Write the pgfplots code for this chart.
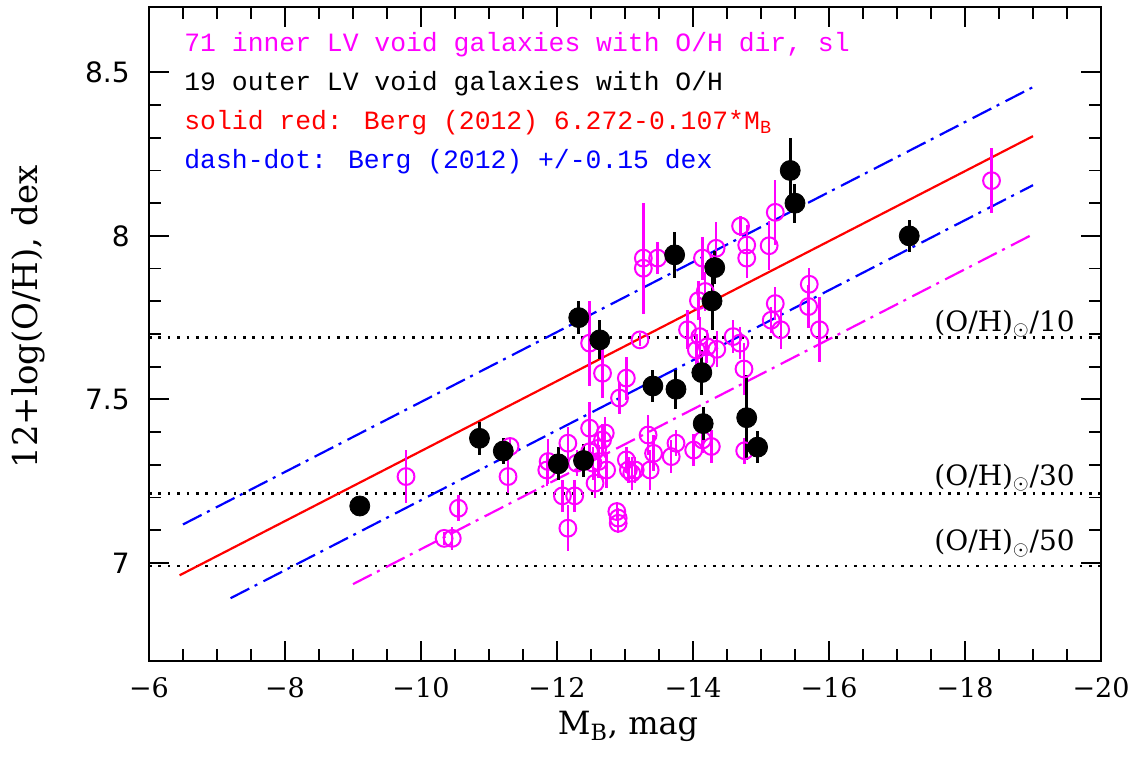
\documentclass[border=0pt]{standalone}
\usepackage{fontspec}
\usepackage{pgfplots}
\usepackage{pgfplotstable}
\pgfplotsset{compat=1.18}
\newfontfamily\dvserif{DejaVu Serif}
\newfontfamily\dvsans{DejaVu Sans}
\newfontfamily\lmono{Liberation Mono}
\definecolor{mag}{RGB}{255,0,255}
\definecolor{rd}{RGB}{255,0,0}
\definecolor{bl}{RGB}{0,0,255}

\pgfplotstableread{
x y e
-9.78 7.264 0.08
-10.55 7.167 0.04
-10.34 7.075 0.02
-10.46 7.075 0.035
-11.31 7.356 0.03
-11.28 7.264 0.05
-11.87 7.31 0.07
-11.85 7.284 0.05
-12.08 7.205 0.05
-12.26 7.205 0.05
-12.16 7.106 0.07
-12.16 7.366 0.05
-12.29 7.305 0.04
-12.48 7.412 0.08
-12.48 7.34 0.05
-12.53 7.305 0.05
-12.56 7.244 0.045
-12.61 7.31 0.05
-12.67 7.376 0.05
-12.71 7.397 0.05
-12.73 7.284 0.055
-12.92 7.504 0.05
-13.02 7.565 0.066
-12.88 7.157 0.03
-12.90 7.137 0.03
-12.90 7.121 0.03
-13.02 7.315 0.04
-13.05 7.284 0.04
-13.10 7.274 0.05
-13.15 7.284 0.04
-13.34 7.391 0.06
-13.42 7.335 0.055
-13.37 7.284 0.06
-13.68 7.325 0.05
-13.75 7.366 0.04
-14.01 7.345 0.05
-14.14 7.376 0.04
-14.27 7.356 0.05
-14.76 7.343 0.04
-12.48 7.672 0.13
-12.67 7.58 0.076
-13.22 7.682 0.02
-13.27 7.932 0.17
-13.27 7.901 0.05
-13.48 7.932 0.05
-13.92 7.713 0.06
-14.08 7.802 0.06
-14.18 7.83 0.06
-14.14 7.932 0.066
-14.10 7.692 0.06
-14.05 7.651 0.05
-14.21 7.661 0.05
-14.19 7.62 0.05
-14.35 7.653 0.055
-14.34 7.962 0.08
-14.59 7.692 0.05
-14.69 7.672 0.05
-14.75 7.593 0.08
-14.70 8.03 0.03
-14.79 7.972 0.06
-14.79 7.932 0.06
-15.12 7.97 0.075
-15.21 8.072 0.1
-15.21 7.793 0.05
-15.15 7.742 0.04
-15.29 7.713 0.06
-15.71 7.852 0.05
-15.70 7.784 0.065
-15.86 7.713 0.1
-18.39 8.169 0.1
-12.60 7.35 0.05
}\magdata

\pgfplotstableread{
x y e
-9.10 7.174 0.02
-10.86 7.381 0.05
-11.21 7.342 0.04
-12.02 7.303 0.05
-12.39 7.313 0.05
-12.32 7.750 0.05
-12.63 7.682 0.06
-13.41 7.541 0.05
-13.73 7.942 0.07
-13.75 7.531 0.06
-14.13 7.582 0.07
-14.15 7.426 0.05
-14.28 7.801 0.09
-14.32 7.903 0.05
-14.79 7.444 0.13
-14.95 7.354 0.05
-15.43 8.200 0.1
-15.50 8.100 0.06
-17.18 8.000 0.05
}\blackdata

\begin{document}
\begin{tikzpicture}
\begin{axis}[
  scale only axis, width=476pt, height=327pt,
  x dir=reverse, xmin=-20, xmax=-6, ymin=6.7, ymax=8.7,
  xtick={-6,-8,-10,-12,-14,-16,-18,-20},
  xticklabels={−6,−8,−10,−12,−14,−16,−18,−20},
  ytick={7,7.5,8,8.5}, yticklabels={7,7.5,8,8.5},
  minor x tick num=3, minor y tick num=4,
  tick align=inside, tick pos=both,
  major tick length=10pt, minor tick length=6pt,
  every tick/.style={black, line width=0.9pt},
  axis line style={line width=1pt},
  xticklabel style={font=\dvserif\fontsize{13.5}{13.5}\selectfont, inner sep=0pt, yshift=-8pt},
  yticklabel style={font=\dvsans\fontsize{14}{14}\selectfont, inner sep=0pt, xshift=-9.5pt},
  clip=false,
]
% reference lines
\addplot[black, line width=1.3pt, dash pattern=on 1.3pt off 3.4pt] coordinates {(-6,7.69) (-20,7.69)};
\addplot[black, line width=1.3pt, dash pattern=on 1.3pt off 3.4pt] coordinates {(-6,7.213) (-20,7.213)};
\addplot[black, line width=1.3pt, dash pattern=on 1.3pt off 3.4pt] coordinates {(-6,6.991) (-20,6.991)};
\addplot[rd, line width=1.1pt] coordinates {(-6.45,6.962) (-19,8.305)};
\addplot[bl, line width=1.1pt, dash pattern=on 10.5pt off 3pt on 1.5pt off 3.5pt] coordinates {(-6.5,7.1175) (-19,8.455)};
\addplot[bl, line width=1.1pt, dash pattern=on 10.5pt off 3pt on 1.5pt off 3.5pt] coordinates {(-7.2,6.892) (-19,8.155)};
\addplot[mag, line width=1.1pt, dash pattern=on 10.5pt off 3pt on 1.5pt off 3.5pt] coordinates {(-9,6.935) (-19,8.005)};
% data
\addplot[only marks, mag, mark=o, mark size=4.2pt, mark options={line width=1pt},
  error bars/.cd, y dir=both, y explicit, error mark=none,
  error bar style={line width=1.2pt, mag}]
  table[x=x, y=y, y error=e] \magdata;
\addplot[only marks, black, mark=*, mark size=5pt,
  error bars/.cd, y dir=both, y explicit, error mark=none,
  error bar style={line width=1.5pt, black}]
  table[x=x, y=y, y error=e] \blackdata;
% annotations
\node[anchor=base east, inner sep=0pt, yshift=3pt, font=\dvserif\fontsize{14}{14}\selectfont] at (axis cs:-19.62,7.69) {(O/H)$_\odot$/10};
\node[anchor=base east, inner sep=0pt, yshift=4pt, font=\dvserif\fontsize{14}{14}\selectfont] at (axis cs:-19.62,7.213) {(O/H)$_\odot$/30};
\node[anchor=base east, inner sep=0pt, yshift=7.5pt, font=\dvserif\fontsize{14}{14}\selectfont] at (axis cs:-19.62,6.991) {(O/H)$_\odot$/50};
\coordinate (SW) at (axis description cs:0,0);
\coordinate (NE) at (axis description cs:1,1);
\end{axis}
% legend text
\node[anchor=base west, inner sep=0pt, text=mag, font=\lmono\fontsize{13.2}{13.2}\selectfont] at ([shift={(17.5pt,304.5pt)}]SW) {71 inner LV void galaxies with O/H dir, sl};
\node[anchor=base west, inner sep=0pt, text=black, font=\lmono\fontsize{13.2}{13.2}\selectfont] at ([shift={(17.5pt,285pt)}]SW) {19 outer LV void galaxies with O/H};
\node[anchor=base west, inner sep=0pt, text=rd, font=\lmono\fontsize{13.2}{13.2}\selectfont] at ([shift={(17.5pt,265.5pt)}]SW) {solid red: Berg (2012) 6.272-0.107*M\textsubscript{B}};
\node[anchor=base west, inner sep=0pt, text=bl, font=\lmono\fontsize{13.2}{13.2}\selectfont] at ([shift={(17.5pt,246pt)}]SW) {dash-dot: Berg (2012) +/-0.15 dex};
% axis labels
\node[anchor=center, rotate=90, inner sep=0pt, font=\dvserif\fontsize{17}{17}\selectfont] at ([shift={(-60.5pt,172pt)}]SW) {12+log(O/H), dex};
\node[anchor=base, inner sep=0pt, font=\dvserif\fontsize{16}{16}\selectfont] at ([shift={(239.5pt,-37pt)}]SW) {M\textsubscript{B}, mag};
\pgfresetboundingbox
\path ([shift={(-74.5pt,-48.5pt)}]SW) rectangle ([shift={(17.5pt,3.5pt)}]NE);
\end{tikzpicture}
\end{document}
